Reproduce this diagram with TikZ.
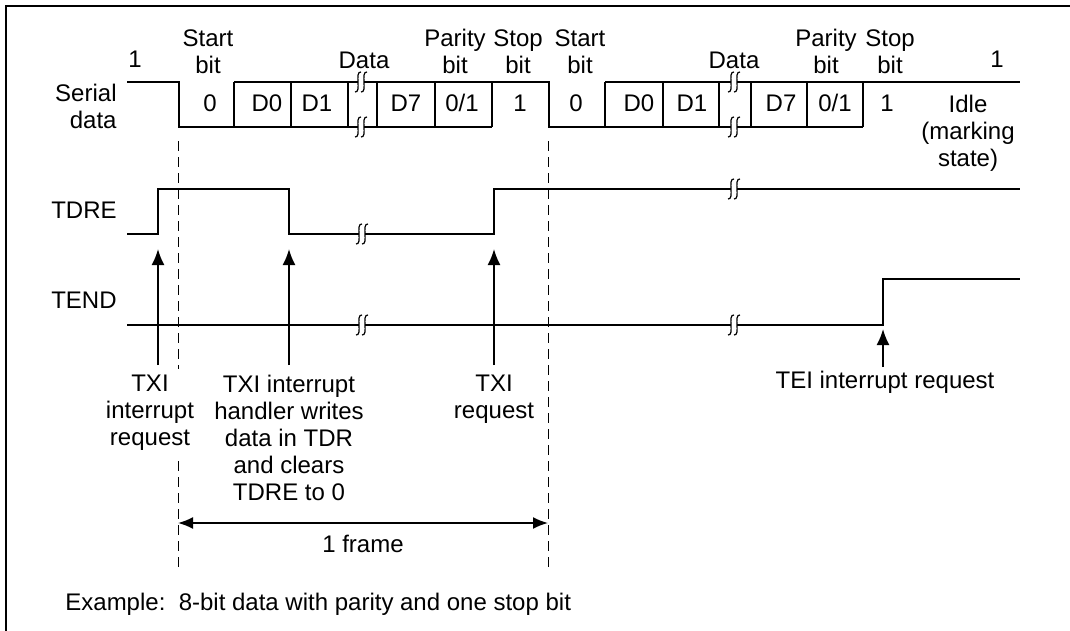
\documentclass[tikz,border=0pt]{standalone}
\usepackage{fontspec}
\setmainfont{Liberation Sans}
\usetikzlibrary{arrows.meta}
\begin{document}
\begin{tikzpicture}[x=0.5pt, y=-0.5pt, font={\fontsize{12}{13.5}\selectfont},
    sig/.style={line width=0.9pt},
    lbl/.style={inner sep=0pt, align=center},
    req/.style={line width=0.9pt, -{Latex[length=8pt, width=6.5pt]}},
    span/.style={line width=0.9pt, {Latex[length=7.5pt, width=6pt]}-{Latex[length=7.5pt, width=6pt]}},
    edge/.style={line width=0.5pt, dash pattern=on 5pt off 3pt},
    brk/.pic={
      \fill[white] (-3,-2.5) rectangle (3,2.5);
      \draw[line width=0.6pt] (-6,10) .. controls (1,11) and (-7,-11) .. (0,-10);
      \draw[line width=0.6pt] (0,10) .. controls (7,11) and (-1,-11) .. (6,-10);}]
  \useasboundingbox (0,0) rectangle (1070,631);
  \draw[line width=1.1pt] (6,631) -- (6,6) -- (1070,6);
  % ---- serial data ---------------------------------------------------------
  \node[lbl, anchor=north east, align=right] (serial) at (117,84) {Serial\\data};
  \draw[sig] (127,82) -- (179,82) -- (179,127) -- (492,127);
  \draw[sig] (234,82) -- (549,82) -- (549,127) -- (863,127);
  \draw[sig] (605,82) -- (1020,82);
  \foreach \x in {234,291,348,377,435,492,605,663,719,751,807,863} {
    \draw[sig] (\x,82) -- (\x,127);}
  \foreach \x in {361,734} {
    \pic at (\x,82) {brk};
    \pic at (\x,127) {brk};}
  % bit values inside the frames
  \foreach \x/\t [count=\i] in {210/0, 267/D0, 317/D1, 406/D7, 462/{0/1}, 520/1,
      576/0, 639/D0, 692/D1, 781/D7, 835/{0/1}, 887/1} {
    \node[lbl, anchor=base] (bit\i) at (\x,112) {\t};}
  % field names above the line
  \foreach \x/\t [count=\i] in {208/{Start\\bit}, 455/{Parity\\bit}, 518/{Stop\\bit},
      580/{Start\\bit}, 826/{Parity\\bit}, 890/{Stop\\bit}} {
    \node[lbl, anchor=north] (field\i) at (\x,29) {\t};}
  \node[lbl, anchor=base] (data1) at (364,69) {Data};
  \node[lbl, anchor=base] (data2) at (734,69) {Data};
  \node[lbl, anchor=base] (mark1) at (135,68) {1};
  \node[lbl, anchor=base] (mark2) at (997,68) {1};
  \node[lbl, anchor=north] (idle) at (968,95) {Idle\\(marking\\state)};
  % ---- TDRE ----------------------------------------------------------------
  \node[lbl, anchor=base east] (tdre) at (117,218) {TDRE};
  \draw[sig] (127,234) -- (158,234) -- (158,189) -- (289,189) -- (289,234)
    -- (494,234) -- (494,189) -- (1020,189);
  \pic at (362,234) {brk};
  \pic at (734,189) {brk};
  % ---- TEND ----------------------------------------------------------------
  \node[lbl, anchor=base east] (tend) at (117,308) {TEND};
  \draw[sig] (127,325) -- (883,325) -- (883,279) -- (1020,279);
  \pic at (362,325) {brk};
  \pic at (734,325) {brk};
  % ---- frame limits ----------------------------------------------------------
  \coordinate (f1top) at (178,141);
  \coordinate (f1bot) at (178,572);
  \coordinate (f2top) at (548,141);
  \coordinate (f2bot) at (548,572);
  \draw[edge] (f1top) -- (f1bot);
  \draw[edge] (f2top) -- (f2bot);
  \draw[span] (178,523) coordinate (s1) -- (548,523) coordinate (s2);
  \node[lbl, anchor=base] (frame) at (363,552) {1 frame};
  % ---- interrupt requests --------------------------------------------------
  \foreach \x/\n in {158/txia, 289/txib, 494/txic} {
    \coordinate (\n) at (\x,365);
    \coordinate (\n t) at (\x,249);
    \draw[req] (\n) -- (\n t);}
  \coordinate (tei) at (883,367);
  \coordinate (teit) at (883,329);
  \draw[req] (tei) -- (teit);
  \node[lbl, anchor=north, fill=white, inner ysep=3pt] (txialbl) at (150,369) {TXI\\interrupt\\request};
  \node[lbl, anchor=north] (txiblbl) at (289,375) {TXI interrupt\\handler writes\\data in TDR\\and clears\\TDRE to 0};
  \node[lbl, anchor=north] (txiclbl) at (494,375) {TXI\\request};
  \node[lbl, anchor=base] (teilbl) at (885,388) {TEI interrupt request};
  % ---- note ----------------------------------------------------------------
  \node[lbl, anchor=base west] (note) at (65,610) {Example:\ \ 8-bit data with parity and one stop bit};
\end{tikzpicture}
\end{document}
